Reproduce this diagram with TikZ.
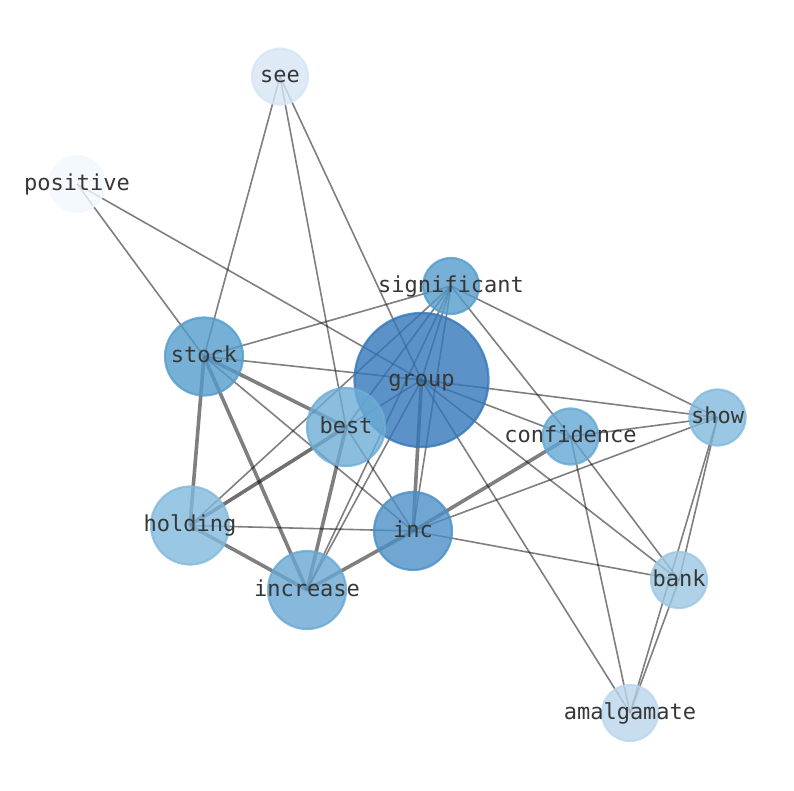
\documentclass[tikz,border=0pt]{standalone}
\usepackage{fontspec}
\setmonofont{DejaVu Sans Mono}
\definecolor{cgroup}{RGB}{51,119,185}
\definecolor{cinc}{RGB}{76,144,198}
\definecolor{cstock}{RGB}{84,156,204}
\definecolor{csig}{RGB}{84,156,204}
\definecolor{cconf}{RGB}{99,168,212}
\definecolor{cincr}{RGB}{104,168,211}
\definecolor{cbest}{RGB}{109,173,214}
\definecolor{chold}{RGB}{129,185,220}
\definecolor{cshow}{RGB}{129,185,220}
\definecolor{cbank}{RGB}{155,199,226}
\definecolor{camal}{RGB}{186,214,236}
\definecolor{csee}{RGB}{214,229,244}
\definecolor{cpos}{RGB}{241,248,254}
\definecolor{labelcol}{RGB}{55,55,55}
\tikzset{
  x=1pt,y=-1pt,
  word/.style={circle,inner sep=0pt,fill=#1,draw=#1,line width=2.2pt,
    fill opacity=0.8,draw opacity=0.8},
  wordlabel/.style={text=labelcol,text opacity=1,inner sep=0pt,anchor=base,
    yshift=-6pt,font=\ttfamily\fontsize{22}{24}\selectfont},
  smallw/.style={word=#1,minimum size=56pt},
  midw/.style={word=#1,minimum size=78pt},
  bigw/.style={word=#1,minimum size=134pt},
  thin/.style={draw=black,draw opacity=0.5,line width=1.6pt},
  thick/.style={draw=black,draw opacity=0.5,line width=3.6pt},
  darkthick/.style={thick,draw opacity=0.56},
}
\begin{document}
\begin{tikzpicture}
\useasboundingbox (0,0) rectangle (794,790);
% positions
\coordinate (pgroup) at (421.5,380);
\coordinate (pstock) at (204,356.5);
\coordinate (pbest) at (346,427);
\coordinate (psig) at (451,286);
\coordinate (pinc) at (413,531);
\coordinate (phold) at (190,525.5);
\coordinate (pincr) at (307,590);
\coordinate (pconf) at (570.5,436.5);
\coordinate (pshow) at (717.5,417.5);
\coordinate (pbank) at (679,580);
\coordinate (pamal) at (630,713);
\coordinate (psee) at (280,76.5);
\coordinate (ppos) at (77,184);
% edges
\draw[thin] (psee) -- (pstock);
\draw[thin] (psee) -- (pbest);
\draw[thin] (psee) -- (pgroup);
\draw[thin] (ppos) -- (pstock);
\draw[thin] (ppos) -- (pgroup);
\draw[thin] (psig) -- (pstock);
\draw[thin] (psig) -- (pgroup);
\draw[thin] (psig) -- (pbest);
\draw[thin] (psig) -- (phold);
\draw[thin] (psig) -- (pinc);
\draw[thin] (psig) -- (pincr);
\draw[thin] (psig) -- (pshow);
\draw[thin] (psig) -- (pconf);
\draw[thin] (pstock) -- (pgroup);
\draw[thin] (pgroup) -- (pshow);
\draw[thin] (pstock) -- (pinc);
\draw[thin] (pgroup) -- (pbest);
\draw[thin] (pgroup) -- (pconf);
\draw[thin] (pgroup) -- (pincr);
\draw[thin] (pgroup) -- (pbank);
\draw[thin] (pgroup) -- (pamal);
\draw[thin] (pconf) -- (pshow);
\draw[thin] (pconf) -- (pamal);
\draw[thin] (pconf) -- (pbank);
\draw[thin] (pshow) -- (pinc);
\draw[thin] (pshow) -- (pbank);
\draw[thin] (pshow) -- (pamal);
\draw[thin] (pbank) -- (pamal);
\draw[thin] (pinc) -- (pbank);
\draw[thin] (phold) -- (pinc);
\draw[thin] (pbest) -- (pinc);
\draw[thick] (pstock) -- (phold);
\draw[thick] (pstock) -- (pbest);
\draw[thick] (pstock) -- (pincr);
\draw[darkthick] (phold) -- (pbest);
\draw[thick] (phold) -- (pincr);
\draw[thick] (pbest) -- (pincr);
\draw[thick] (pgroup) -- (pinc);
\draw[thick] (pinc) -- (pincr);
\draw[thick] (pinc) -- (pconf);
% nodes
\node[bigw=cgroup] (group) at (pgroup) {};
\node[midw=cstock] (stock) at (pstock) {};
\node[midw=cbest] (best) at (pbest) {};
\node[smallw=csig] (significant) at (psig) {};
\node[midw=cinc] (inc) at (pinc) {};
\node[midw=chold] (holding) at (phold) {};
\node[midw=cincr] (increase) at (pincr) {};
\node[smallw=cconf] (confidence) at (pconf) {};
\node[smallw=cshow] (show) at (pshow) {};
\node[smallw=cbank] (bank) at (pbank) {};
\node[smallw=camal] (amalgamate) at (pamal) {};
\node[smallw=csee] (see) at (psee) {};
\node[smallw=cpos] (positive) at (ppos) {};
% labels
\node[wordlabel] (tgroup) at (group) {group};
\node[wordlabel] (tstock) at (stock) {stock};
\node[wordlabel] (tbest) at (best) {best};
\node[wordlabel] (tsig) at (significant) {significant};
\node[wordlabel] (tinc) at (inc) {inc};
\node[wordlabel] (thold) at (holding) {holding};
\node[wordlabel] (tincr) at (increase) {increase};
\node[wordlabel] (tconf) at (confidence) {confidence};
\node[wordlabel] (tshow) at (show) {show};
\node[wordlabel] (tbank) at (bank) {bank};
\node[wordlabel] (tamal) at (amalgamate) {amalgamate};
\node[wordlabel] (tsee) at (see) {see};
\node[wordlabel] (tpos) at (positive) {positive};
\end{tikzpicture}
\end{document}
